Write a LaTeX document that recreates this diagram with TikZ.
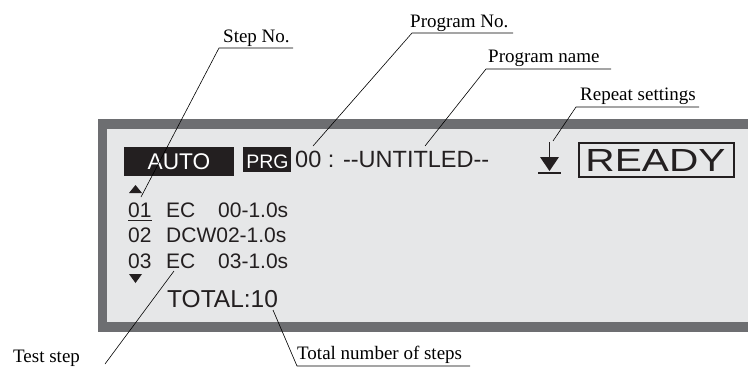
\documentclass[tikz,border=0pt]{standalone}
\usepackage{fontspec}
\setmainfont{Liberation Serif}
\newfontfamily\lcd{Liberation Sans}
\definecolor{frameclr}{HTML}{6D6E71}
\definecolor{screenclr}{HTML}{E6E7E8}
\definecolor{lcdink}{HTML}{231F20}
\begin{document}
\begin{tikzpicture}[x=1pt,y=-1pt,
  lbl/.style={font=\fontsize{19}{19}\selectfont, inner sep=0pt, anchor=base west},
  lcdtxt/.style={font=\lcd\fontsize{21}{21}\selectfont, inner sep=0pt, anchor=base west, text=lcdink},
  leader/.style={draw=black, line width=0.6pt},
]
\useasboundingbox (0,0) rectangle (748,367);
% display
\fill[frameclr] (98,119) rectangle (748,332);
\fill[screenclr] (107,129) rectangle (748,322);
% AUTO
\fill[lcdink] (124,147) rectangle (234,176);
\node[font=\lcd\fontsize{22.7}{22.7}\selectfont, text=white, inner sep=0pt, anchor=base] (auto) at (179,169) {AUTO};
% PRG
\fill[lcdink] (243,147) rectangle (291,172);
\node[font=\lcd\fontsize{19.5}{19.5}\selectfont, text=white, inner sep=0pt, anchor=base] (prg) at (267.5,168) {PRG};
\node[lcdtxt, font=\lcd\fontsize{23.5}{23.5}\selectfont] (prgname) at (295,167) {00 : --UNTITLED--};
% repeat symbol
\draw[lcdink, line width=1.3pt] (549.5,142) -- (549.5,158);
\fill[lcdink] (540,157) -- (559,157) -- (549.5,171) -- cycle;
\draw[lcdink, line width=2pt] (538,173) -- (561,173);
% READY
\draw[lcdink, line width=1.5pt] (579,143) rectangle (734,177);
\node[font=\lcd\fontsize{32}{32}\selectfont, text=lcdink, inner sep=0pt, anchor=base] (ready) at (655.5,171) {\scalebox{1.27}[1]{READY}};
% step list
\fill[lcdink] (129,193) -- (142,193) -- (135.5,185) -- cycle;
\node[lcdtxt] (s1n) at (128,217) {01};
\draw[lcdink, line width=1.2pt] (128,220.5) -- (152,220.5);
\node[lcdtxt] (s1t) at (166,217) {EC};
\node[lcdtxt] (s1v) at (218,217) {00-1.0s};
\node[lcdtxt] (s2n) at (128,242) {02};
\node[lcdtxt] (s2t) at (166,242) {DCW02-1.0s};
\node[lcdtxt] (s3n) at (128,268) {03};
\node[lcdtxt] (s3t) at (166,268) {EC};
\node[lcdtxt] (s3v) at (218,268) {03-1.0s};
\fill[lcdink] (129,274) -- (142,274) -- (135.5,283) -- cycle;
\node[lcdtxt, font=\lcd\fontsize{24.5}{24.5}\selectfont] (total) at (167,307) {TOTAL:10};
% labels
\node[lbl] (stepno) at (223,42) {Step No.};
\coordinate (stepA) at (219,48); \coordinate (stepB) at (293,48); \coordinate (stepE) at (141,197);
\draw[leader] (stepB) -- (stepA) -- (stepE);
\node[lbl] (progno) at (410,27) {Program No.};
\coordinate (pnA) at (412,33); \coordinate (pnB) at (513,33); \coordinate (pnE) at (313,146);
\draw[leader] (pnB) -- (pnA) -- (pnE);
\node[lbl] (progname) at (488,62) {Program name};
\coordinate (pmA) at (486,69); \coordinate (pmB) at (611,69); \coordinate (pmE) at (425,146);
\draw[leader] (pmB) -- (pmA) -- (pmE);
\node[lbl] (repeat) at (580,100) {Repeat settings};
\coordinate (rpA) at (576,107); \coordinate (rpB) at (699,107); \coordinate (rpE) at (553,141);
\draw[leader] (rpB) -- (rpA) -- (rpE);
\node[lbl] (totlbl) at (297,359) {Total number of steps};
\coordinate (tnA) at (297,366); \coordinate (tnB) at (470,366); \coordinate (tnE) at (273,310);
\draw[leader] (tnB) -- (tnA) -- (tnE);
\node[lbl] (teststep) at (13,362) {Test step};
\coordinate (tsA) at (105,364); \coordinate (tsE) at (174,271);
\draw[leader] (tsA) -- (tsE);
\end{tikzpicture}
\end{document}
